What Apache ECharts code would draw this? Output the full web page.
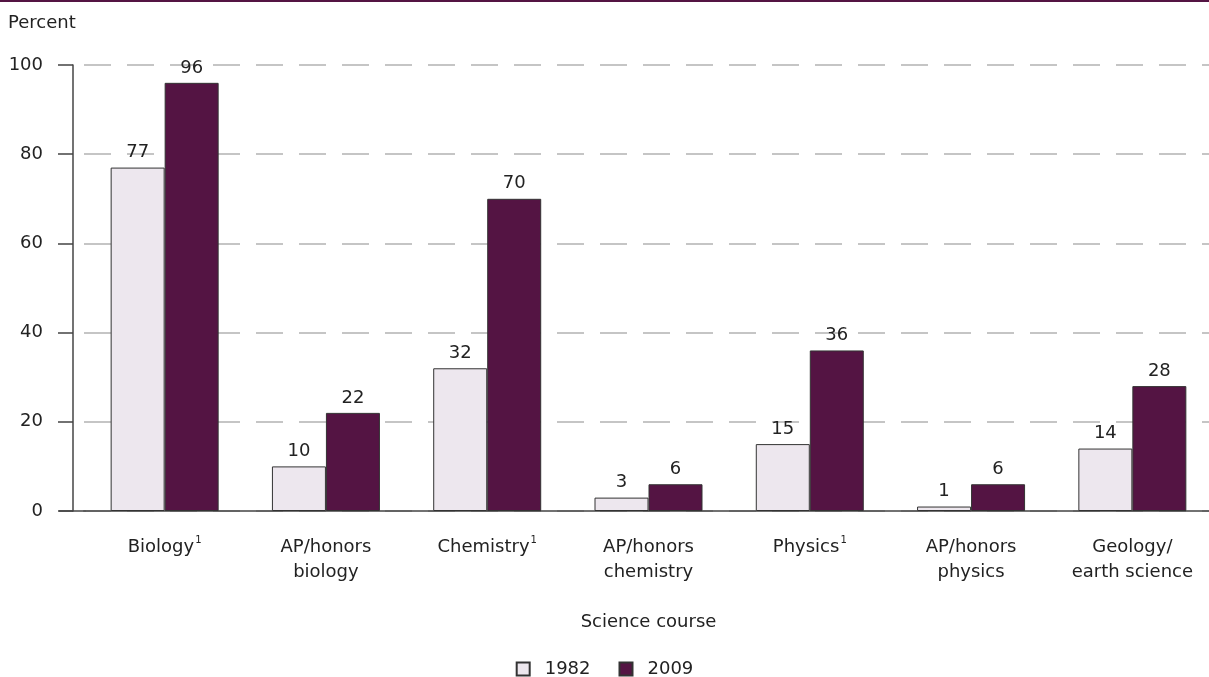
<!DOCTYPE html>
<html><head><meta charset="utf-8">
<script src="https://cdn.jsdelivr.net/npm/echarts@6/dist/echarts.min.js"></script>
<style>html,body{margin:0;padding:0;background:#fff}#c{width:1209px;height:677px}</style>
</head><body><div id="c"></div>
<script>
const categories = ['Biology|1', 'AP/honors\nbiology', 'Chemistry|1', 'AP/honors\nchemistry', 'Physics|1', 'AP/honors\nphysics', 'Geology/\nearth science'];
const values1982 = [77, 10, 32, 3, 15, 1, 14];
const values2009 = [96, 22, 70, 6, 36, 6, 28];
const yTicks = [0, 20, 40, 60, 80, 100];
const seriesNames = ['1982', '2009'];

const FONT = 'DejaVu Sans';
const FS = 18;
const TXT = '#222';
const chart = echarts.init(document.getElementById('c'));
const labelStyle = {show: true, position: 'top', color: TXT, fontSize: FS, fontFamily: FONT, distance: 6};
function build(baselineY) {
  return {
    animation: false,
    textStyle: {fontFamily: FONT},
    title: {text: 'Percent', left: 3, top: 9, textStyle: {fontSize: FS, fontWeight: 'normal', color: TXT, fontFamily: FONT}},
    grid: {left: 84, right: -4, top: 65, bottom: 166, containLabel: false, outerBoundsMode: 'none'},
    legend: {
      top: 655, left: 'center', itemWidth: 13, itemHeight: 13, itemGap: 28,
      textStyle: {fontSize: FS, color: TXT, fontFamily: FONT, padding: [0, 0, 0, 10]},
      data: seriesNames.map(n => ({name: n, icon: 'rect'}))
    },
    xAxis: {
      type: 'category', data: categories,
      name: 'Science course', nameLocation: 'middle', nameGap: 102,
      nameTextStyle: {fontSize: FS, color: TXT, fontFamily: FONT},
      axisLine: {show: true, lineStyle: {color: '#444', width: 1.5}},
      axisTick: {show: false},
      axisLabel: {
        interval: 0, margin: 24, color: TXT, fontSize: FS, fontFamily: FONT, lineHeight: 25,
        formatter: v => {
          const p = v.split('|');
          return p.length > 1 ? p[0] + '{sup|' + p[1] + '}' : v;
        },
        rich: {sup: {fontSize: 10, verticalAlign: 'top', padding: [0, 0, 9, 1], color: TXT, fontFamily: FONT}}
      }
    },
    yAxis: {
      type: 'value', min: 0, max: 100, interval: 20, offset: 11,
      axisLine: {show: true, lineStyle: {color: '#444', width: 1.5}},
      axisTick: {show: true, length: 15, lineStyle: {color: '#444', width: 1.5}},
      axisLabel: {color: TXT, fontSize: FS, fontFamily: FONT, margin: 30,
        formatter: v => yTicks.includes(v) ? String(v) : ''},
      splitLine: {show: true, lineStyle: {color: '#b3b3b3', width: 1.5, type: [27, 16]}}
    },
    series: [
      {name: seriesNames[0], type: 'bar', data: values1982, barWidth: 54, barGap: '0%',
        itemStyle: {color: '#ede7ee', borderColor: '#333', borderWidth: 1}, label: labelStyle},
      {name: seriesNames[1], type: 'bar', data: values2009, barWidth: 54,
        itemStyle: {color: '#541443', borderColor: '#333', borderWidth: 1}, label: labelStyle}
    ],
    graphic: [
      {type: 'rect', shape: {x: 0, y: 0, width: 1209, height: 2}, style: {fill: '#541443'}}
    ].concat(baselineY == null ? [] : [
      {type: 'line', shape: {x1: 59, y1: baselineY, x2: 86, y2: baselineY}, style: {stroke: '#444', lineWidth: 1.5}}
    ])
  };
}
chart.setOption(build(null));
const p0 = chart.convertToPixel({yAxisIndex: 0}, 0);
chart.setOption(build(p0), true);
</script></body></html>
